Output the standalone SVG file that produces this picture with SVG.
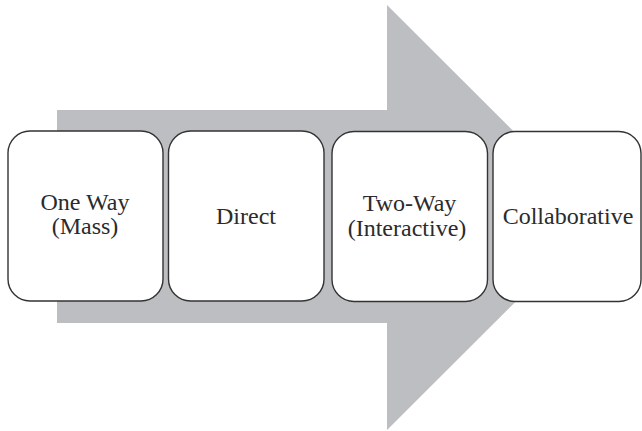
<svg xmlns="http://www.w3.org/2000/svg" width="642" height="431" viewBox="0 0 642 431">
<style>
.box{fill:#fff;stroke:#333;stroke-width:1.4}
.lbl{font-family:"Liberation Serif","Times New Roman",serif;font-size:24px;fill:#2b2b2b;text-anchor:middle}
</style>
<rect width="642" height="431" fill="#fff"/>
<g id="arrow">
<polygon points="57,110 387,110 387,5 600,217.5 387,430 387,323 57,323" fill="#bdbec1"/>
</g>
<g id="connectors"></g>
<g id="node1">
<rect class="box" x="8" y="131" width="155" height="170" rx="22" ry="22"/>
<text class="lbl" x="85" y="210">One Way</text>
<text class="lbl" x="85" y="234">(Mass)</text>
</g>
<g id="node2">
<rect class="box" x="168.5" y="131" width="155.5" height="170" rx="22" ry="22"/>
<text class="lbl" x="246" y="224">Direct</text>
</g>
<g id="node3">
<rect class="box" x="332" y="131.5" width="155.5" height="170" rx="22" ry="22"/>
<text class="lbl" x="409.5" y="211">Two-Way</text>
<text class="lbl" x="407" y="236">(Interactive)</text>
</g>
<g id="node4">
<rect class="box" x="493" y="131.5" width="148" height="170" rx="22" ry="22"/>
<text class="lbl" x="568" y="224">Collaborative</text>
</g>
</svg>
